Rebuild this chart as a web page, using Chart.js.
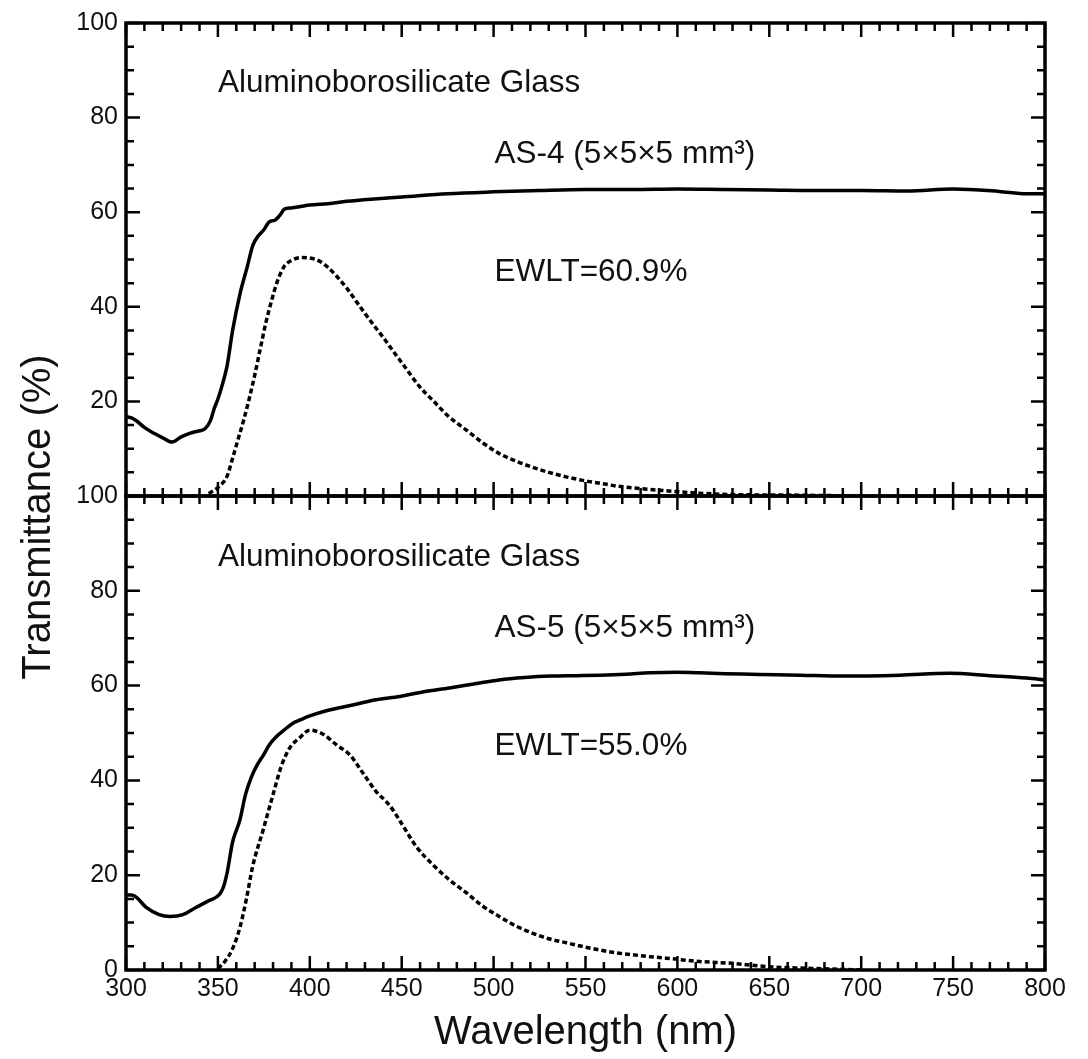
<!DOCTYPE html>
<html>
<head>
<meta charset="utf-8">
<script src="https://cdn.jsdelivr.net/npm/chart.js@4.4.1/dist/chart.umd.min.js"></script>
<style>
  body { margin: 0; background: #fff; }
  #wrap { position: relative; width: 1088px; height: 1059px; }
  #wrap canvas { position: absolute; left: 0; top: 0; }
</style>
</head>
<body>
<div id="wrap">
  <canvas id="topChart" width="1088" height="1059"></canvas>
  <canvas id="bottomChart" width="1088" height="1059"></canvas>
</div>
<script>
// AS-4 : transmittance (solid) and weighted curve (dotted)
const as4Nm = [300, 303, 306, 310, 315, 320, 325, 330, 335, 340, 343, 346, 348, 350, 352, 355, 358, 362, 366, 369, 372, 375, 378, 381, 384, 386, 390, 395, 400, 410, 420, 435, 450, 475, 500, 525, 550, 575, 600, 625, 650, 675, 700, 725, 750, 775, 790, 800];
const as4T = [16.8, 16.5, 15.8, 14.5, 13.3, 12.3, 11.4, 12.5, 13.3, 13.8, 14.2, 16.0, 18.5, 20.5, 23.0, 27.5, 35.0, 42.7, 48.5, 53.0, 55.0, 56.3, 58.0, 58.3, 59.5, 60.6, 60.9, 61.2, 61.5, 61.8, 62.3, 62.8, 63.2, 63.9, 64.3, 64.6, 64.8, 64.8, 64.9, 64.8, 64.7, 64.6, 64.6, 64.5, 64.9, 64.4, 63.9, 63.9];
const as4DotNm = [345, 350, 355, 358, 361, 364, 367, 370, 373, 376, 379, 382, 386, 390, 395, 400, 405, 410, 415, 420, 425, 430, 435, 440, 445, 450, 460, 467, 475, 485, 495, 503, 512, 521, 530, 540, 550, 558, 567, 576, 594, 612, 630, 660, 700];
const as4Dot = [0.5, 1.8, 4.2, 8.0, 12.0, 16.0, 20.5, 25.5, 31.0, 36.5, 41.0, 45.0, 48.5, 49.8, 50.4, 50.3, 49.7, 48.3, 46.3, 44.0, 41.3, 38.6, 36.0, 33.5, 30.8, 28.2, 23.0, 20.2, 17.0, 14.0, 11.0, 9.0, 7.4, 6.1, 5.0, 4.0, 3.2, 2.7, 2.1, 1.7, 1.1, 0.6, 0.3, 0.2, 0.0];

// AS-5
const as5Nm = [300, 303, 306, 311, 318, 324, 331, 338, 345, 351, 353, 355, 358, 362, 365, 368, 371, 375, 378, 382, 386, 391, 395, 400, 409, 422, 436, 449, 462, 476, 490, 503, 517, 531, 545, 558, 572, 585, 600, 612, 626, 640, 654, 667, 690, 721, 748, 770, 790, 800];
const as5T = [15.8, 15.8, 15.2, 13.2, 11.7, 11.3, 11.7, 13.2, 14.6, 16.0, 17.5, 20.5, 27.0, 31.7, 37.0, 40.5, 43.0, 45.5, 47.5, 49.3, 50.6, 52.1, 52.8, 53.6, 54.7, 55.8, 57.0, 57.7, 58.7, 59.5, 60.4, 61.2, 61.7, 62.0, 62.1, 62.2, 62.4, 62.7, 62.8, 62.7, 62.5, 62.4, 62.3, 62.2, 62.0, 62.2, 62.6, 62.1, 61.6, 61.2];
const as5DotNm = [350, 354, 358, 362, 365.5, 369, 374.5, 380, 384.5, 389, 394.5, 400, 407, 414.5, 422, 429, 436, 443.5, 449, 458, 467, 476, 485.5, 494, 503.5, 512, 521, 530, 540, 549, 558, 567, 576, 585, 594, 612, 630, 649, 667, 685, 700];
const as5Dot = [0.3, 1.9, 4.5, 9.0, 15.0, 22.0, 29.4, 37.0, 43.0, 46.8, 49.0, 50.6, 49.8, 47.5, 45.3, 41.5, 37.7, 34.7, 31.5, 26.0, 22.2, 19.0, 16.2, 13.5, 11.2, 9.3, 7.8, 6.6, 5.7, 4.9, 4.2, 3.6, 3.2, 2.8, 2.5, 1.8, 1.4, 0.7, 0.4, 0.2, 0.0];

const yTicks = [0, 20, 40, 60, 80, 100];
const xTicks = [300, 350, 400, 450, 500, 550, 600, 650, 700, 750, 800];

// text placed in data coordinates (nm, %)
const as4Notes = [
  { text: "Aluminoborosilicate Glass", x: 350, y: 85.4 },
  { text: "AS-4 (5\u00d75\u00d75 mm\u00b3)", x: 500.5, y: 70.3 },
  { text: "EWLT=60.9%", x: 500.5, y: 45.4 }
];
const as5Notes = [
  { text: "Aluminoborosilicate Glass", x: 350, y: 85.2 },
  { text: "AS-5 (5\u00d75\u00d75 mm\u00b3)", x: 500.5, y: 70.2 },
  { text: "EWLT=55.0%", x: 500.5, y: 45.4 }
];

const fontFam = '"Liberation Sans", Arial, Helvetica, sans-serif';
const ink = "#111";

const pts = (xs, ys) => xs.map((x, i) => ({ x: x, y: ys[i] }));

// frame + inward ticks on all four sides
const frameTicks = {
  id: "frameTicks",
  afterDatasetsDraw(chart) {
    const { ctx, chartArea: a } = chart;
    const x = chart.scales.x, y = chart.scales.y;
    ctx.save();
    ctx.strokeStyle = "#000";
    ctx.lineWidth = 2.5;
    ctx.beginPath();
    for (let v = x.min; v <= x.max; v += 10) {
      const px = x.getPixelForValue(v);
      const len = v % 50 === 0 ? 14 : 8;
      ctx.moveTo(px, a.bottom); ctx.lineTo(px, a.bottom - len);
      ctx.moveTo(px, a.top); ctx.lineTo(px, a.top + len);
    }
    for (let v = y.min; v <= y.max; v += 5) {
      const py = y.getPixelForValue(v);
      const len = v % 20 === 0 ? 14 : 8;
      ctx.moveTo(a.left, py); ctx.lineTo(a.left + len, py);
      ctx.moveTo(a.right, py); ctx.lineTo(a.right - len, py);
    }
    ctx.stroke();
    ctx.lineWidth = 3.5;
    ctx.strokeRect(a.left, a.top, a.right - a.left, a.bottom - a.top);
    ctx.restore();
  }
};

const notes = {
  id: "notes",
  afterDraw(chart, args, opts) {
    const { ctx } = chart;
    const x = chart.scales.x, y = chart.scales.y;
    ctx.save();
    ctx.fillStyle = ink;
    ctx.font = "31.5px " + fontFam;
    ctx.textAlign = "left";
    ctx.textBaseline = "alphabetic";
    (opts.items || []).forEach(n => {
      ctx.fillText(n.text, x.getPixelForValue(n.x), y.getPixelForValue(n.y));
    });
    if (opts.yTitle) {
      ctx.font = "40px " + fontFam;
      ctx.textAlign = "center";
      ctx.textBaseline = "middle";
      ctx.translate(39, 517);
      ctx.rotate(-Math.PI / 2);
      ctx.fillText(opts.yTitle, 0, 0);
    }
    ctx.restore();
  }
};

const solid = (data) => ({
  data: data, borderColor: "#000", borderWidth: 3.5, pointRadius: 0,
  fill: false, cubicInterpolationMode: "monotone"
});
const dotted = (data) => ({
  data: data, borderColor: "#000", borderWidth: 3.5, pointRadius: 0,
  borderDash: [5, 3], fill: false, cubicInterpolationMode: "monotone"
});

const makeOptions = (showX, padTop, padBottom, items, yTitle, hideZero) => ({
  responsive: false,
  animation: false,
  layout: { padding: { left: 0, right: 43, top: padTop, bottom: padBottom } },
  plugins: {
    legend: { display: false },
    tooltip: { enabled: false },
    notes: { items: items, yTitle: yTitle }
  },
  scales: {
    x: {
      type: "linear", min: 300, max: 800,
      display: showX,
      afterBuildTicks: (s) => { s.ticks = xTicks.map(v => ({ value: v })); },
      afterFit: (s) => { if (showX) s.height = 89; },
      grid: { display: false, drawTicks: false },
      border: { display: false },
      ticks: { color: ink, padding: 4, font: { family: fontFam, size: 25 } },
      title: {
        display: showX, text: "Wavelength (nm)", color: ink,
        padding: { top: 0, bottom: 2 }, font: { family: fontFam, size: 40 }
      }
    },
    y: {
      type: "linear", min: 0, max: 100,
      afterBuildTicks: (s) => { s.ticks = yTicks.map(v => ({ value: v })); },
      afterFit: (s) => { s.width = 126; },
      grid: { display: false, drawTicks: false },
      border: { display: false },
      ticks: {
        color: ink, padding: 8, font: { family: fontFam, size: 25 },
        callback: (v) => (hideZero && v === 0) ? "" : String(v)
      }
    }
  }
});

new Chart(document.getElementById("topChart"), {
  type: "line",
  data: { datasets: [solid(pts(as4Nm, as4T)), dotted(pts(as4DotNm, as4Dot))] },
  options: makeOptions(false, 21, 563, as4Notes, null, true),
  plugins: [frameTicks, notes]
});

new Chart(document.getElementById("bottomChart"), {
  type: "line",
  data: { datasets: [solid(pts(as5Nm, as5T)), dotted(pts(as5DotNm, as5Dot))] },
  options: makeOptions(true, 496, 0, as5Notes, "Transmittance (%)", false),
  plugins: [frameTicks, notes]
});
</script>
</body>
</html>
